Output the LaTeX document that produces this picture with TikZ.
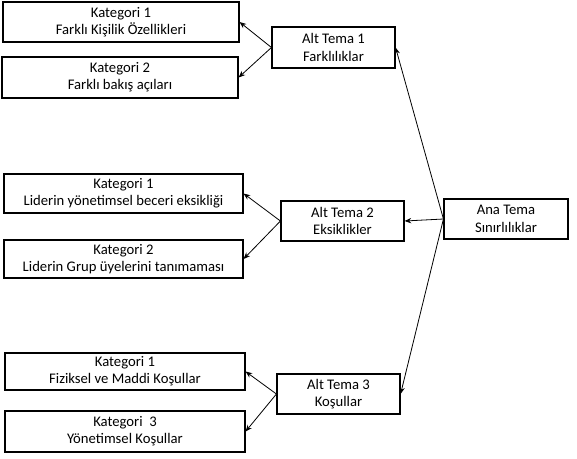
\documentclass[tikz,border=0pt]{standalone}
\usepackage{fontspec}
\setmainfont{Carlito}
\usepackage{tikz}
\usetikzlibrary{arrows.meta,shadows}

\tikzset{
  kutu/.style={draw=black, line width=0.85pt, fill=white, align=center, inner sep=0pt,
    font=\fontsize{11}{13}\selectfont,
    drop shadow={shadow xshift=0.5pt, shadow yshift=-0.7pt, opacity=0.45, fill=black}},
  ok/.style={-{Stealth[length=5pt,width=4pt]}, line width=0.6pt}
}

\begin{document}
\begin{tikzpicture}[x=0.75pt,y=0.75pt,yscale=-1,xscale=1]
\useasboundingbox (0,0) rectangle (577,458);

% Alt Tema 1
\node [kutu, minimum width=177pt, minimum height=30pt] (kat11) at (121,22) {Kategori 1\\Farklı Kişilik Özellikleri};
\node [kutu, minimum width=177pt, minimum height=30.75pt] (kat12) at (120,77.5) {Kategori 2\\Farklı bakış açıları};
\node [kutu, minimum width=92.25pt, minimum height=30.75pt] (alt1) at (333.5,47.5) {Alt Tema 1\\Farklılıklar};

% Alt Tema 2
\node [kutu, minimum width=179.25pt, minimum height=29.25pt] (kat21) at (123.5,193.5) {Kategori 1\\Liderin yönetimsel beceri eksikliği};
\node [kutu, minimum width=179.25pt, minimum height=28.5pt] (kat22) at (123.5,259) {Kategori 2\\Liderin Grup üyelerini tanımaması};
\node [kutu, minimum width=92.25pt, minimum height=30pt] (alt2) at (342.5,221) {Alt Tema 2\\Eksiklikler};

% Ana Tema
\node [kutu, minimum width=93pt, minimum height=30pt] (ana) at (506,219) {Ana Tema\\Sınırlılıklar};

% Alt Tema 3
\node [kutu, minimum width=180pt, minimum height=27.75pt] (kat31) at (125,371.5) {Kategori 1\\Fiziksel ve Maddi Koşullar};
\node [kutu, minimum width=180pt, minimum height=30.75pt] (kat32) at (125,431.5) {Kategori~ 3\\Yönetimsel Koşullar};
\node [kutu, minimum width=92.25pt, minimum height=30pt] (alt3) at (338.5,394) {Alt Tema 3\\Koşullar};

% oklar
\draw [ok] (alt1.west) -- (kat11.east);
\draw [ok] (alt1.west) -- (kat12.east);
\draw [ok] (alt2.west) -- (kat21.east);
\draw [ok] (alt2.west) -- (kat22.east);
\draw [ok] (alt3.west) -- (kat31.east);
\draw [ok] (alt3.west) -- (kat32.east);
\draw [ok] (ana.west) -- (alt1.east);
\draw [ok] (ana.west) -- (alt2.east);
\draw [ok] (ana.west) -- (alt3.east);
\end{tikzpicture}
\end{document}
